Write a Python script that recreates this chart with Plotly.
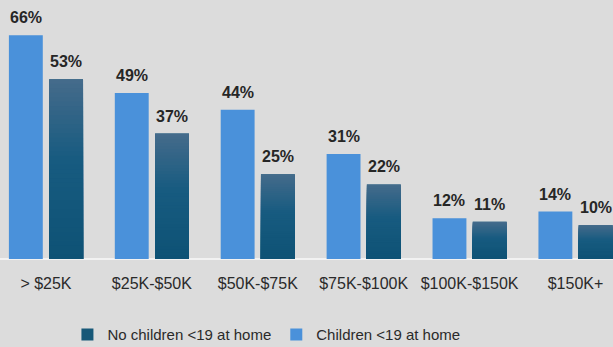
import plotly.graph_objects as go

# Share of households by income bracket, split by children at home
income_brackets = ["> $25K", "$25K-$50K", "$50K-$75K", "$75K-$100K", "$100K-$150K", "$150K+"]
children_pct = [66, 49, 44, 31, 12, 14]
no_children_pct = [53, 37, 25, 22, 11, 10]

LIGHT = "#4a91da"
DARK = "#175878"
GRAD_TOP = (0x45, 0x6b, 0x8b)
GRAD_MID = (0x17, 0x5b, 0x80)
GRAD_BOT = (0x0e, 0x52, 0x75)
BG = "#dcdcdc"
N_LAYERS = 40

BAR_W = 0.32
OFF_CHILD = -0.35
OFF_NOCHILD = 0.03


def blend(c1, c2, t):
    return "rgb({},{},{})".format(*[round(a + (b - a) * t) for a, b in zip(c1, c2)])


def grad_color(frac_from_top):
    # Grey-blue at the top fading into a deep teal-blue lower down
    if frac_from_top < 0.45:
        return blend(GRAD_TOP, GRAD_MID, frac_from_top / 0.45)
    return blend(GRAD_MID, GRAD_BOT, (frac_from_top - 0.45) / 0.55)


fig = go.Figure()

# Legend-bearing solid bars
fig.add_trace(go.Bar(
    x=income_brackets, y=no_children_pct, name="No children <19 at home",
    marker=dict(color=DARK, line=dict(width=0)),
    width=BAR_W, offset=OFF_NOCHILD, legendrank=1,
    hoverinfo="skip",
))
fig.add_trace(go.Bar(
    x=income_brackets, y=children_pct, name="Children <19 at home",
    marker=dict(color=LIGHT, line=dict(width=0)),
    width=BAR_W, offset=OFF_CHILD, legendrank=2,
))

# Vertical gradient over the "no children" bars: nested bars from the
# full value down to shorter ones, each painted over the previous
gx, gy, gcol = [], [], []
for i in range(N_LAYERS):
    for cat, v in zip(income_brackets, no_children_pct):
        gx.append(cat)
        gy.append(v * (N_LAYERS - i) / N_LAYERS)
        gcol.append(grad_color((i + 0.5) / N_LAYERS))
fig.add_trace(go.Bar(
    x=gx, y=gy, showlegend=False,
    marker=dict(color=gcol, line=dict(width=0)),
    width=BAR_W, offset=OFF_NOCHILD, hoverinfo="skip",
))

# Value labels above each bar
label_font = dict(family="Liberation Sans, Arial, sans-serif", size=16, color="#262626")
px_per_cat = 613 / (5.354 + 0.434)
for cat, c, n in zip(income_brackets, children_pct, no_children_pct):
    for v, off in ((c, OFF_CHILD), (n, OFF_NOCHILD)):
        fig.add_annotation(
            x=cat, y=v, text=f"<b>{v}%</b>", showarrow=False,
            xshift=(off + BAR_W / 2) * px_per_cat, yanchor="bottom", yshift=7,
            font=label_font,
        )

fig.update_layout(
    width=613, height=347,
    margin=dict(l=0, r=0, t=0, b=88, autoexpand=False),
    paper_bgcolor=BG, plot_bgcolor=BG,
    barmode="overlay",
    font=dict(family="Liberation Sans, Arial, sans-serif", color="#2a2a2a"),
    showlegend=True,
    legend=dict(
        orientation="h", xref="container", yref="container",
        x=0.11, y=0.035, xanchor="left", yanchor="middle",
        font=dict(size=15, color="#2a2a2a"), bgcolor="rgba(0,0,0,0)",
        itemwidth=30, traceorder="normal",
    ),
    xaxis=dict(
        range=[-0.434, 5.354], showgrid=False, zeroline=False,
        showline=False, ticks="", tickfont=dict(size=16, color="#2a2a2a"),
        ticklabelstandoff=13,
    ),
    yaxis=dict(
        range=[0, 76.4], showgrid=False, showticklabels=False, ticks="",
        zeroline=True, zerolinecolor="#f2f2f2", zerolinewidth=2,
    ),
)

fig.write_html("out.html")
